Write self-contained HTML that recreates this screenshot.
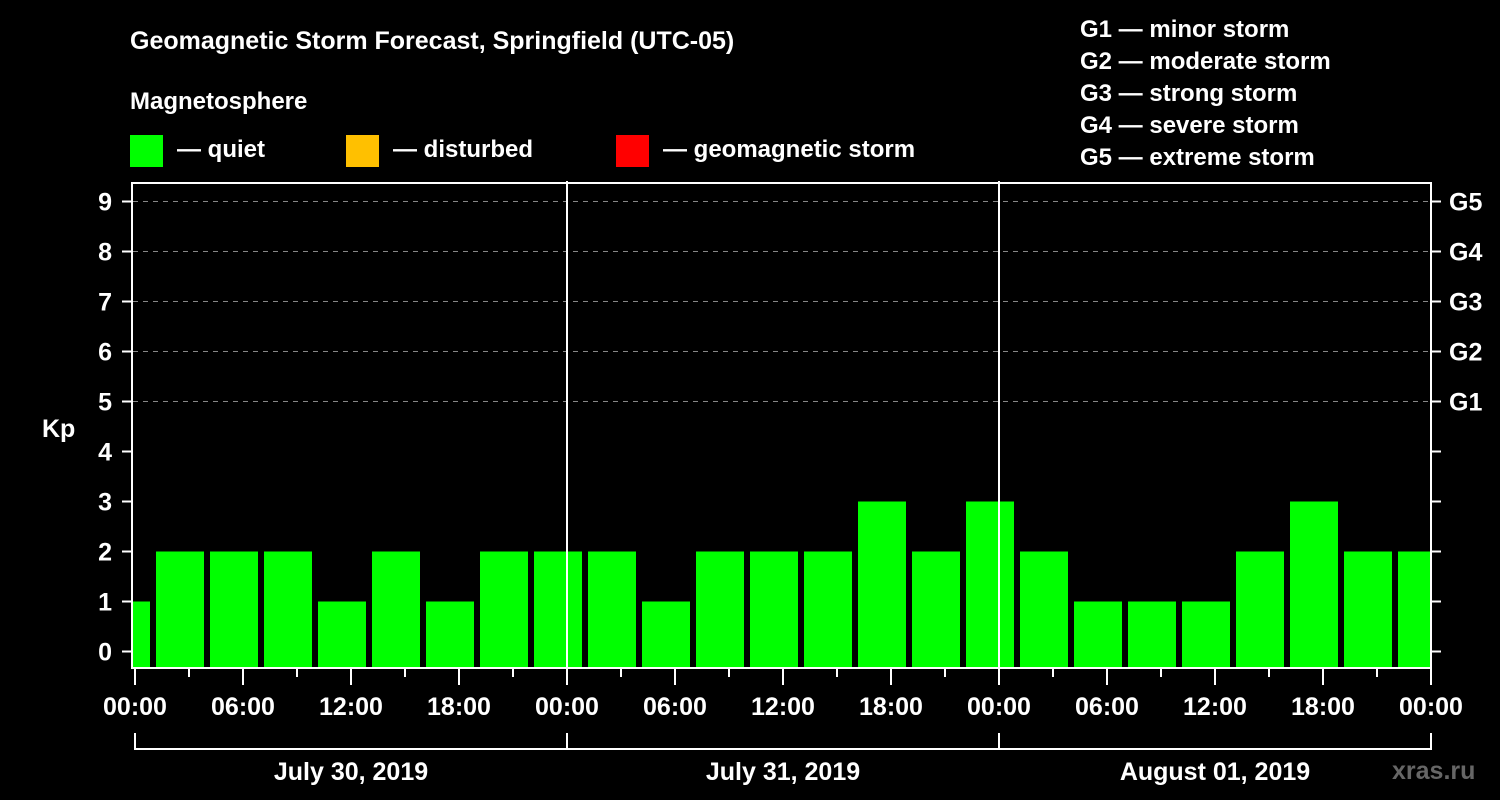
<!DOCTYPE html>
<html><head><meta charset="utf-8"><style>
body{margin:0;background:#000;}
svg{display:block;font-family:"Liberation Sans",sans-serif;font-weight:bold;}
</style></head><body>
<svg width="1500" height="800" viewBox="0 0 1500 800">
<rect x="0" y="0" width="1500" height="800" fill="#000"/>
<text x="130" y="49" fill="#fff" font-size="25">Geomagnetic Storm Forecast, Springfield (UTC-05)</text>
<text x="130" y="109" fill="#fff" font-size="24">Magnetosphere</text>
<g><rect x="130" y="135" width="33" height="32" fill="#00ff00"/><text x="177" y="157" fill="#fff" font-size="24">— quiet</text></g>
<g><rect x="346" y="135" width="33" height="32" fill="#ffc000"/><text x="393" y="157" fill="#fff" font-size="24">— disturbed</text></g>
<g><rect x="616" y="135" width="33" height="32" fill="#ff0000"/><text x="663" y="157" fill="#fff" font-size="24">— geomagnetic storm</text></g>
<g fill="#fff" font-size="24">
<text x="1080" y="37">G1 — minor storm</text>
<text x="1080" y="69">G2 — moderate storm</text>
<text x="1080" y="101">G3 — strong storm</text>
<text x="1080" y="133">G4 — severe storm</text>
<text x="1080" y="165">G5 — extreme storm</text>
</g>
<text x="42" y="437" fill="#fff" font-size="25">Kp</text>
<text x="1392" y="779" fill="#666" font-size="25">xras.ru</text>
<defs><clipPath id="pc"><rect x="133" y="183" width="1297" height="485"/></clipPath></defs>
<g id="grid"></g>
<g id="bars" clip-path="url(#pc)"></g>
<g id="axes"></g>
<script>
const kpValues=[1,2,2,2,1,2,1,2,2,2,1,2,2,2,3,2,3,2,1,1,1,2,3,2,2];
const yTicks=[0,1,2,3,4,5,6,7,8,9];
const gLabels=[[5,"G1"],[6,"G2"],[7,"G3"],[8,"G4"],[9,"G5"]];
const xTickLabels=["00:00","06:00","12:00","18:00","00:00","06:00","12:00","18:00","00:00","06:00","12:00","18:00","00:00"];
const dayLabels=["July 30, 2019","July 31, 2019","August 01, 2019"];
const NS="http://www.w3.org/2000/svg";
const X0=135,PXH=18,Y0=651.5,PXK=50,BOT=668;
function x(h){return X0+h*PXH;}
function y(v){return Y0-v*PXK;}
function mk(tag,attrs,parent,txt){const e=document.createElementNS(NS,tag);for(const k in attrs)e.setAttribute(k,attrs[k]);if(txt!==undefined)e.textContent=txt;parent.appendChild(e);return e;}
const grid=document.getElementById('grid'),bars=document.getElementById('bars'),axes=document.getElementById('axes');
yTicks.forEach(v=>{
  if(v>=5){const l=mk('line',{x1:133,x2:1430,y1:y(v),y2:y(v),stroke:'#888','stroke-width':1,'stroke-dasharray':'5,5'},grid);
  
  }
  const t=mk('line',{x1:122,x2:131,y1:y(v),y2:y(v),stroke:'#fff','stroke-width':2},axes);
  
  
  const r=mk('line',{x1:1432,x2:1441,y1:y(v),y2:y(v),stroke:'#fff','stroke-width':2},axes);
  
  
  const lb=mk('text',{x:112,y:y(v)+9,fill:'#fff','font-size':25,'text-anchor':'end'},axes,String(v));
  
  
});
gLabels.forEach(([v,g])=>{
  const lb=mk('text',{x:1449,y:y(v)+9,fill:'#fff','font-size':25},axes,g);
  
  
});
kpValues.forEach((v,k)=>{
  const x1=x(3*k-2)+3,x2=x(3*k+1)-3;
  const b=mk('rect',{x:x1,y:y(v),width:x2-x1,height:BOT-y(v),fill:'#00ff00'},bars);
  
  
});
[1,2].forEach(d=>{
  const l=mk('line',{x1:x(24*d),x2:x(24*d),y1:181,y2:668,stroke:'#fff','stroke-width':2},axes);
  
  
});
const fr=mk('rect',{x:132,y:183,width:1299,height:485,fill:'none',stroke:'#fff','stroke-width':2},axes);


for(let h=0;h<=72;h+=3){
  const major=h%6===0;
  const t=mk('line',{x1:x(h),x2:x(h),y1:669,y2:major?685:677,stroke:'#fff','stroke-width':2},axes);
  
  
}
xTickLabels.forEach((s,i)=>{
  const lb=mk('text',{x:x(i*6),y:715,fill:'#fff','font-size':25,'text-anchor':'middle'},axes,s);
  
  
});
const br=mk('path',{d:`M${x(0)},733V749H${x(72)}V733`,fill:'none',stroke:'#fff','stroke-width':2},axes);


[1,2].forEach(d=>{
  const l=mk('line',{x1:x(24*d),x2:x(24*d),y1:733,y2:749,stroke:'#fff','stroke-width':2},axes);
  
  
});
dayLabels.forEach((s,i)=>{
  const lb=mk('text',{x:x(24*i+12),y:780,fill:'#fff','font-size':25,'text-anchor':'middle'},axes,s);
  
  
});
</script>
</svg>
</body></html>
